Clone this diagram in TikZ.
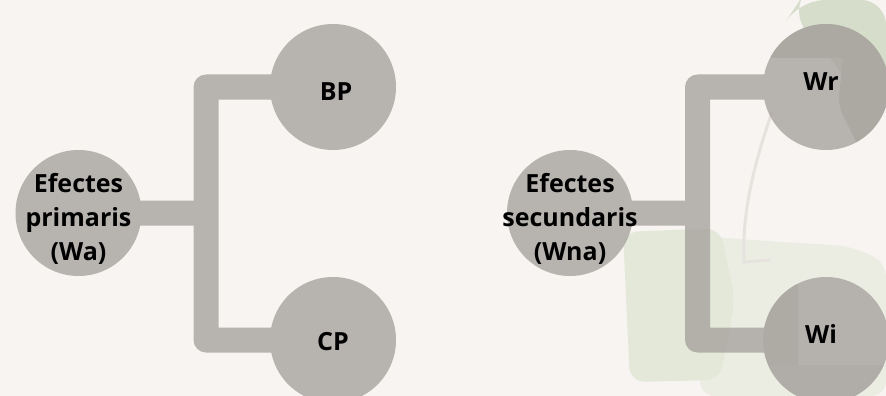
\documentclass[tikz,border=0pt]{standalone}
\usepackage{fontspec}
\setmainfont{Open Sans}
\usepackage{xcolor}
\definecolor{paper}{HTML}{F7F4F1}
\definecolor{stone}{HTML}{A8A39F}
\definecolor{leafpale}{HTML}{E3E8D9}
\definecolor{leafmid}{HTML}{D6DDCB}
\definecolor{leafdark}{HTML}{8C9A78}
\definecolor{vein}{HTML}{E6E3DF}
\pgfdeclarelayer{bg}
\pgfsetlayers{bg,main}

\begin{document}
\begin{tikzpicture}[x=1pt,y=-1pt,
  bubble/.style={circle,fill=stone,minimum size=126pt,inner sep=0pt},
  link/.style={draw=stone,line width=25pt,line join=round},
  word/.style={font=\bfseries\fontsize{25}{34}\selectfont,align=center,text=black,inner sep=0pt}]
\useasboundingbox (0,0) rectangle (886,396);
\begin{pgfonlayer}{bg}
\fill [paper] (0,0) rectangle (886,396);
% faint leaves behind the right tree
\fill [leafpale!60!paper,rounded corners=15pt] (700,236) -- (780,242) -- (850,246) -- (886,262)
  -- (886,396) -- (700,396) -- cycle;
\fill [leafpale,rounded corners=15pt] (623,232) -- (720,228) -- (735,300) -- (720,380) -- (630,382) -- cycle;
\fill [leafmid,rounded corners=25pt] (800,0) -- (886,0) -- (886,115) -- (860,105) -- (830,55) -- (790,15) -- cycle;
\begin{scope}
\clip (826,87) circle (63);
\fill [leafdark!55!paper,rounded corners=10pt] (763,20) rectangle (886,58);
\fill [leafdark!55!paper,rounded corners=10pt] (845,40) -- (886,40) -- (886,150) -- (860,150) -- (838,105) -- cycle;
\end{scope}
\begin{scope}
\clip (826,340) circle (63);
\fill [leafdark!45!paper,rounded corners=10pt] (763,277) rectangle (798,396);
\fill [leafdark!35!paper] (763,365) rectangle (886,396);
\end{scope}
\draw [vein,line width=3pt] (772,112) .. controls (752,170) and (742,215) .. (744,262) -- (770,260);
\end{pgfonlayer}

% primary effects
\coordinate (ja) at (206,213);
% secondary effects
\coordinate (jb) at (697.5,213);

\begin{scope}[transparency group,opacity=0.8]
\node[bubble] (wa) at (78.5,213) {};
\node[bubble] (bp) at (333,87) {};
\node[bubble] (cp) at (333,340) {};
\node[bubble] (wna) at (570,213) {};
\node[bubble] (wr) at (826,87) {};
\node[bubble] (wi) at (826,340) {};
\draw[link] (bp.center) -| (ja) |- (cp.center);
\draw[link] (wa.center) -- (ja);
\draw[link] (wr.center) -| (jb) |- (wi.center);
\draw[link] (wna.center) -- (jb);
\end{scope}

\node[word] at ([yshift=-6pt]wa.center) {Efectes\\primaris\\(Wa)};
\node[word] at ([xshift=3pt,yshift=-4.5pt]bp.center) {BP};
\node[word] at ([yshift=-2pt]cp.center) {CP};
\node[word] at ([yshift=-6pt]wna.center) {Efectes\\secundaris\\(Wna)};
\node[word] at ([xshift=-5pt,yshift=5pt]wr.center) {Wr};
\node[word] at ([xshift=-5pt,yshift=6pt]wi.center) {Wi};
\end{tikzpicture}
\end{document}
